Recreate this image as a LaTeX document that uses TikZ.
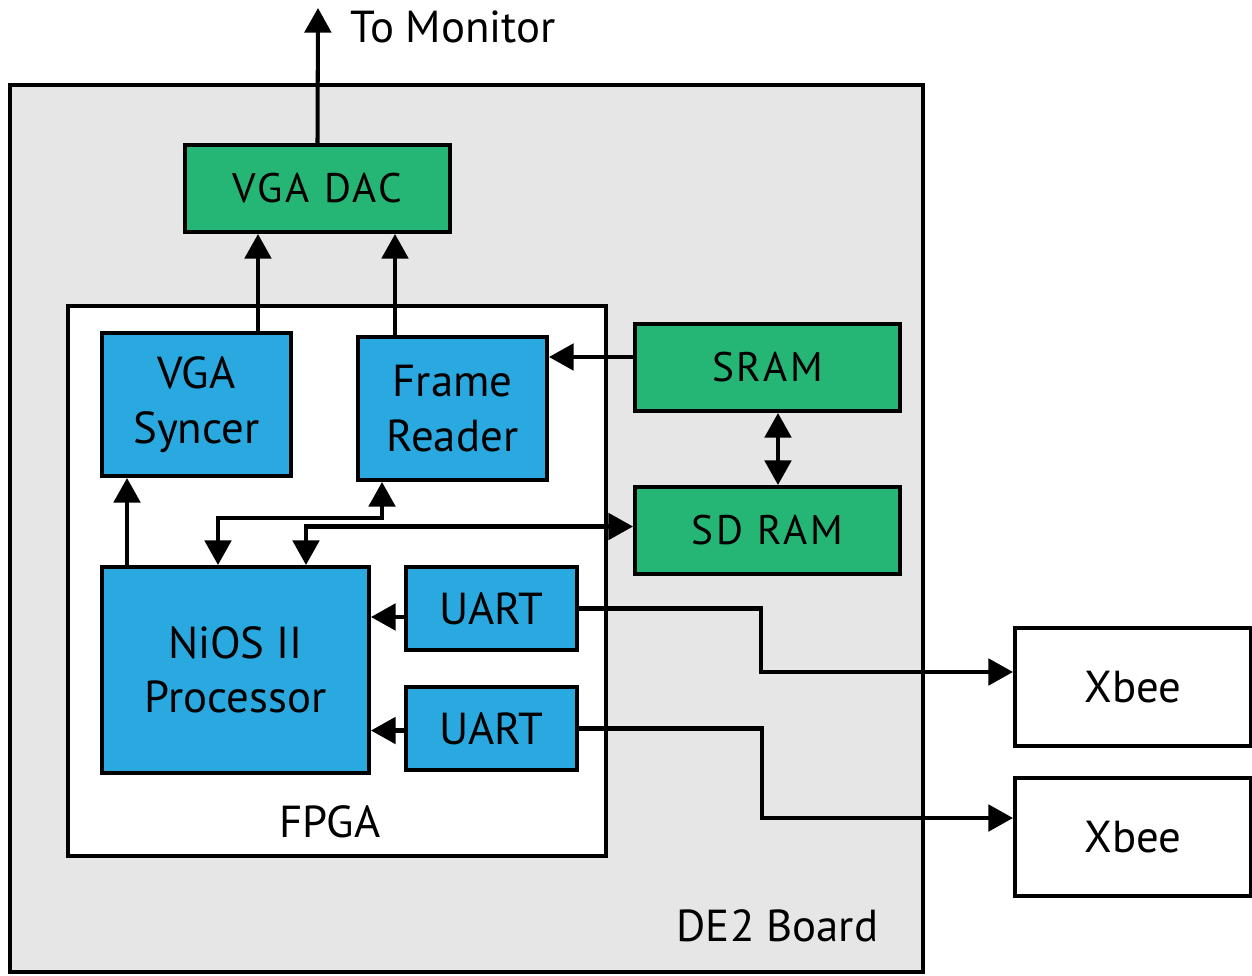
\documentclass[tikz,border=0pt]{standalone}
\usepackage{fontspec}
\setmainfont{PT Sans}
\usepackage{xcolor}
\usepackage{tikz}
\usetikzlibrary{arrows.meta,positioning}

\definecolor{boardgray}{HTML}{E6E6E6}
\definecolor{chipgreen}{HTML}{25B574}
\definecolor{coreblue}{HTML}{29A9E0}

\begin{document}
\begin{tikzpicture}[x=0.02cm,y=-0.02cm,line width=2.3pt,
    >={Triangle[length=14pt,width=15pt]},
    font=\fontsize{25.5}{31}\selectfont,
    blk/.style={draw,rectangle,inner sep=0pt,align=center},
    chip/.style={blk,fill=chipgreen,minimum width=5.3cm,minimum height=1.74cm,
      font=\fontsize{23.5}{27}\selectfont\addfontfeature{LetterSpace=7}},
    core/.style={blk,fill=coreblue,minimum width=3.78cm,minimum height=2.86cm},
    uart/.style={blk,fill=coreblue,minimum width=3.42cm,minimum height=1.66cm},
    radio/.style={blk,fill=white,minimum width=4.72cm,minimum height=2.36cm}]

\useasboundingbox (0,0) rectangle (1252,976);

% board and fpga
\draw[fill=boardgray] (10,85) rectangle (923,972);
\node (boardlabel) [anchor=south east] at (886,950) {DE2 Board};
\draw[fill=white] (68,306) rectangle (606,856);
\node (fpgalabel) at (330,822) {FPGA};

\node[chip] (dac)    at (317.5,188.5) {VGA DAC};
\node[core] (syncer) at (196.5,404.5) {VGA\\Syncer};
\node[core] (reader) at (452.5,408.5) {Frame\\Reader};
\node[chip] (sram)   at (767.5,367.5) {SRAM};
\node[chip] (sdram)  [below=1.44cm of sram] {SD RAM};
\node[core,minimum width=5.34cm,minimum height=4.12cm] (nios) at (235.5,670) {NiOS II\\Processor};
\node[uart] (uart1)  at (491.5,608.5) {UART};
\node[uart] (uart2)  [below=0.66cm of uart1] {UART};
\node[radio] (xbee1) at (1133,687) {Xbee};
\node[radio] (xbee2) [below=0.56cm of xbee1] {Xbee};

\coordinate (monitor) at (318,8);
\node (monitorlabel) [anchor=west] at (343,27) {To Monitor};

\draw[->] (dac.north) -- (monitor);
\draw[->] ([xshift=1.23cm]syncer.north) -- ([xshift=1.23cm]syncer.north |- dac.south);
\draw[->] ([xshift=-1.15cm]reader.north) -- ([xshift=-1.15cm]reader.north |- dac.south);
\draw[->] ([yshift=0.21cm]sram.west) -- ([yshift=0.21cm]sram.west -| reader.east);
\draw[<->] ([xshift=0.21cm]sram.south) -- ([xshift=0.21cm]sdram.north);
\draw[->] ([xshift=-2.17cm]nios.north) -- ([xshift=-2.17cm]nios.north |- syncer.south);
\draw[<->] ([xshift=-1.41cm]reader.south) -- ++(0,-0.72cm) -| ([xshift=-0.35cm]nios.north);
\draw[<->] ([yshift=0.08cm]sdram.west) -| ([xshift=1.41cm]nios.north);
\draw[->] ([yshift=-0.17cm]uart1.west) -- ([yshift=-0.17cm]uart1.west -| nios.east);
\draw[->] ([yshift=-0.04cm]uart2.west) -- ([yshift=-0.04cm]uart2.west -| nios.east);
\draw[->] (uart1.east) -- ++(3.64cm,0) |- ([yshift=0.3cm]xbee1.west);
\draw[->] (uart2.east) -- ++(3.66cm,0) |- ([yshift=0.38cm]xbee2.west);

\end{tikzpicture}
\end{document}
